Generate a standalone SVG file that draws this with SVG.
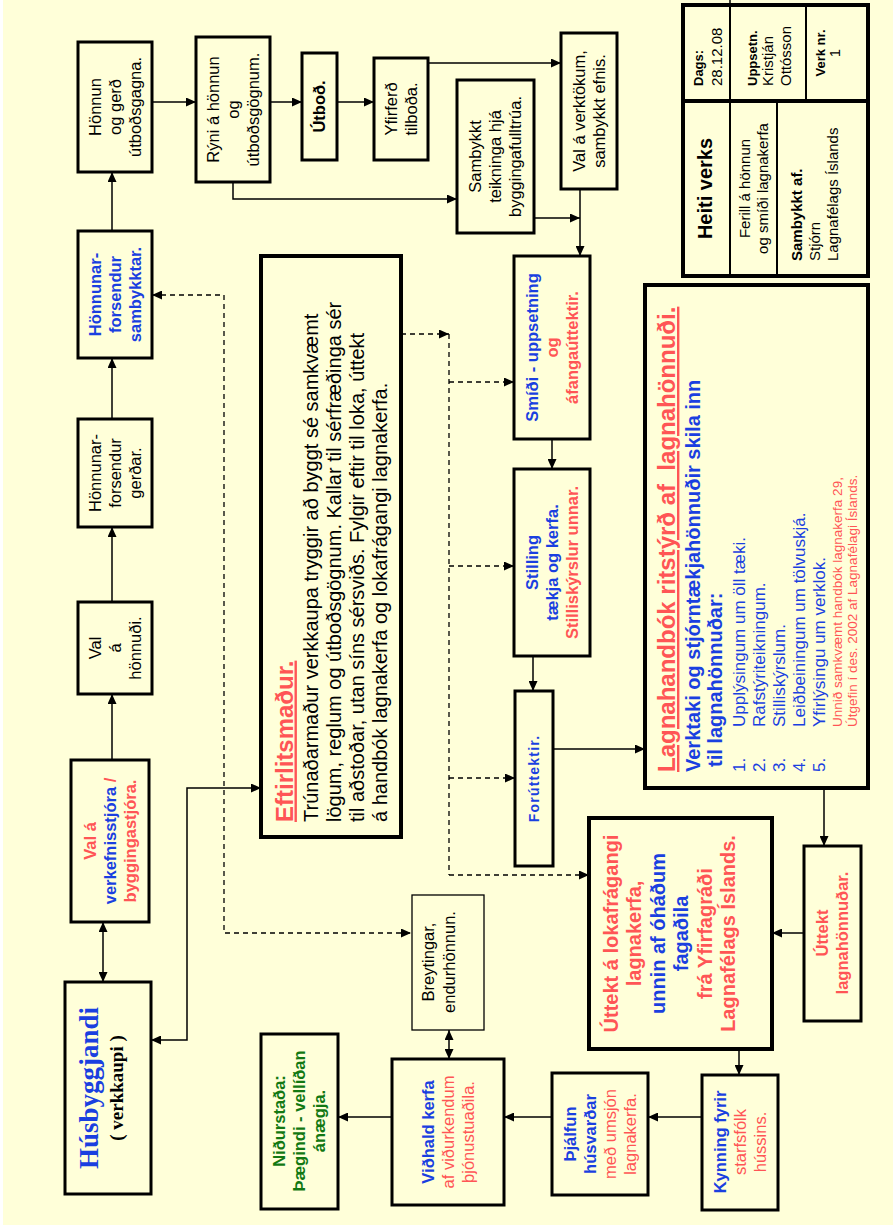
<svg xmlns="http://www.w3.org/2000/svg" width="893" height="1227" viewBox="0 0 893 1227">
<style>
.t{font-family:"Liberation Sans",Arial,sans-serif;font-size:16.5px;fill:#000}
.b{font-weight:bold}
.bl{fill:#1a3fe0}
.rd{fill:#ff5555}
.gr{fill:#127812}
.box{fill:none;stroke:#000;stroke-width:3}
.bx4{fill:none;stroke:#000;stroke-width:4}
.thin{fill:none;stroke:#000;stroke-width:1.3}
.c{fill:none;stroke:#000;stroke-width:1.5}
.d{fill:none;stroke:#000;stroke-width:1.3;stroke-dasharray:5,4}
.u{text-decoration:underline}
</style>
<defs>
<marker id="ah" markerWidth="10" markerHeight="9" refX="10" refY="4.5" orient="auto-start-reverse" markerUnits="userSpaceOnUse">
<path d="M0,0 L10,4.5 L0,9 z" fill="#000"/>
</marker>
</defs>
<rect width="893" height="1227" fill="#ffffff"/>
<rect x="3" y="0" width="890" height="1225" fill="#ffffd9"/>

<g id="connectors">
<line class="c" x1="152" y1="102" x2="196" y2="102" marker-end="url(#ah)"/>
<line class="c" x1="270" y1="102" x2="302" y2="102" marker-end="url(#ah)"/>
<line class="c" x1="337" y1="102" x2="374" y2="102" marker-end="url(#ah)"/>
<line class="c" x1="428" y1="63" x2="561" y2="63" marker-end="url(#ah)"/>
<polyline class="c" points="233,182 233,199 457,199" marker-end="url(#ah)"/>
<line class="c" x1="534" y1="218" x2="580" y2="218" marker-end="url(#ah)"/>
<line class="c" x1="580" y1="189" x2="580" y2="256" marker-end="url(#ah)"/>
<line class="c" x1="112" y1="231" x2="112" y2="172" marker-end="url(#ah)"/>
<line class="c" x1="112" y1="419" x2="112" y2="358" marker-end="url(#ah)"/>
<line class="c" x1="112" y1="602" x2="112" y2="527" marker-end="url(#ah)"/>
<line class="c" x1="112" y1="760" x2="112" y2="694" marker-end="url(#ah)"/>
<line class="c" x1="103" y1="922" x2="103" y2="982" marker-start="url(#ah)" marker-end="url(#ah)"/>
<polyline class="c" points="261,788 187,788 187,1040 151,1040" marker-start="url(#ah)" marker-end="url(#ah)"/>
<polyline class="d" points="152,295 224,295 224,933 411,933" marker-start="url(#ah)" marker-end="url(#ah)"/>
<line class="d" x1="401" y1="334" x2="449" y2="334" marker-end="url(#ah)"/>
<line class="d" x1="449" y1="334" x2="449" y2="875"/>
<line class="d" x1="449" y1="382" x2="514" y2="382" marker-end="url(#ah)"/>
<line class="d" x1="449" y1="566" x2="514" y2="566" marker-end="url(#ah)"/>
<line class="d" x1="449" y1="778" x2="515" y2="778" marker-end="url(#ah)"/>
<line class="d" x1="449" y1="875" x2="589" y2="875" marker-end="url(#ah)"/>
<line class="c" x1="552" y1="439" x2="552" y2="469" marker-end="url(#ah)"/>
<line class="c" x1="533" y1="656" x2="533" y2="691" marker-end="url(#ah)"/>
<line class="c" x1="553" y1="749" x2="645" y2="749" marker-end="url(#ah)"/>
<line class="c" x1="824" y1="788" x2="824" y2="846" marker-end="url(#ah)"/>
<line class="c" x1="804" y1="933" x2="772" y2="933" marker-end="url(#ah)"/>
<line class="c" x1="739" y1="1049" x2="739" y2="1075" marker-end="url(#ah)"/>
<line class="c" x1="702" y1="1117" x2="648" y2="1117" marker-end="url(#ah)"/>
<line class="c" x1="552" y1="1117" x2="504" y2="1117" marker-end="url(#ah)"/>
<line class="c" x1="449" y1="1030" x2="449" y2="1059" marker-start="url(#ah)" marker-end="url(#ah)"/>
<line class="c" x1="392" y1="1117" x2="338" y2="1117" marker-end="url(#ah)"/>
</g>

<g id="honnun-gerd">
<rect class="box" x="78" y="42" width="74" height="130"/>
<text class="t" text-anchor="middle" transform="translate(0,107) rotate(-90)"><tspan x="0" y="100.9">Hönnun</tspan><tspan x="0" y="120.9">og gerð</tspan><tspan x="0" y="140.9">útboðsgagna.</tspan></text>
</g>
<g id="ryni">
<rect class="box" x="196" y="37" width="74" height="145"/>
<text class="t" text-anchor="middle" transform="translate(0,109.5) rotate(-90)"><tspan x="0" y="218.9">Rýni á hönnun</tspan><tspan x="0" y="238.9">og</tspan><tspan x="0" y="258.9">útboðsgögnum.</tspan></text>
</g>
<g id="utbod">
<rect class="box" x="302" y="53" width="35" height="107"/>
<text class="t b" text-anchor="middle" transform="translate(0,106.5) rotate(-90)"><tspan x="0" y="325.4">Útboð.</tspan></text>
</g>
<g id="yfirferd">
<rect class="box" x="374" y="58" width="54" height="102"/>
<text class="t" text-anchor="middle" transform="translate(0,109) rotate(-90)"><tspan x="0" y="396.9">Yfirferð</tspan><tspan x="0" y="416.9">tilboða.</tspan></text>
</g>
<g id="sambykkt-teikninga">
<rect class="box" x="457" y="80" width="77" height="153"/>
<text class="t" text-anchor="middle" transform="translate(0,156.5) rotate(-90)"><tspan x="0" y="481.4">Sambykkt</tspan><tspan x="0" y="501.4">teikninga hjá</tspan><tspan x="0" y="521.4">byggingafulltrúa.</tspan></text>
</g>
<g id="val-verktokum">
<rect class="box" x="561" y="33" width="56" height="156"/>
<text class="t" text-anchor="middle" transform="translate(0,111) rotate(-90)"><tspan x="0" y="584.9">Val á verktökum,</tspan><tspan x="0" y="604.9">sambykkt efnis.</tspan></text>
</g>
<g id="honnunarforsendur-sambykktar">
<rect class="box" x="78" y="231" width="74" height="127"/>
<text class="t b bl" text-anchor="middle" transform="translate(0,294.5) rotate(-90)"><tspan x="0" y="100.9">Hönnunar-</tspan><tspan x="0" y="120.9">forsendur</tspan><tspan x="0" y="140.9">sambykktar.</tspan></text>
</g>
<g id="honnunarforsendur-gerdar">
<rect class="box" x="78" y="419" width="74" height="108"/>
<text class="t" text-anchor="middle" transform="translate(0,473) rotate(-90)"><tspan x="0" y="100.9">Hönnunar-</tspan><tspan x="0" y="120.9">forsendur</tspan><tspan x="0" y="140.9">gerðar.</tspan></text>
</g>
<g id="val-honnudi">
<rect class="box" x="78" y="602" width="74" height="92"/>
<text class="t" text-anchor="middle" transform="translate(0,648) rotate(-90)"><tspan x="0" y="100.9">Val</tspan><tspan x="0" y="120.9">á</tspan><tspan x="0" y="140.9">hönnuði.</tspan></text>
</g>
<g id="val-verkefnisstjora">
<rect class="box" x="71" y="760" width="78" height="162"/>
<text class="t b" text-anchor="middle" transform="translate(0,841) rotate(-90)"><tspan x="0" y="95.9" class="rd">Val á</tspan><tspan x="0" y="115.9" class="bl">verkefnisstjóra<tspan class="rd"> /</tspan></tspan><tspan x="0" y="135.9" class="rd">byggingastjóra.</tspan></text>
</g>
<g id="husbyggjandi">
<rect class="box" x="65" y="982" width="86" height="212"/>
<text text-anchor="middle" style="font-family:'Liberation Serif','Times New Roman',serif;font-weight:bold" transform="translate(0,1088) rotate(-90)"><tspan x="0" y="98" style="font-size:27px;fill:#1a3fe0">Húsbyggjandi</tspan><tspan x="0" y="123" style="font-size:19px;fill:#000">( verkkaupi )</tspan></text>
</g>
<g id="eftirlitsmadur">
<rect class="bx4" x="261" y="256" width="140" height="581"/>
<text class="t" style="font-size:20px" transform="translate(0,822) rotate(-90)"><tspan x="0" y="292.5" class="b rd u" style="font-size:24px">Eftirlitsmaður.</tspan><tspan x="0" y="318">Trúnaðarmaður verkkaupa tryggir að byggt sé samkvæmt</tspan><tspan x="0" y="341">lögum, reglum og útboðsgögnum. Kallar til sérfræðinga sér</tspan><tspan x="0" y="364">til aðstoðar, utan síns sérsviðs. Fylgir eftir til loka, úttekt</tspan><tspan x="0" y="387">á handbók lagnakerfa og lokafrágangi lagnakerfa.</tspan></text>
</g>
<g id="smidi">
<rect class="box" x="514" y="256" width="76" height="183"/>
<text class="t b" text-anchor="middle" transform="translate(0,347.5) rotate(-90)"><tspan x="0" y="537.9" class="bl">Smíði - uppsetning</tspan><tspan x="0" y="557.9" class="rd">og</tspan><tspan x="0" y="577.9" class="rd">áfangaúttektir.</tspan></text>
</g>
<g id="stilling">
<rect class="box" x="514" y="469" width="76" height="187"/>
<text class="t b" text-anchor="middle" transform="translate(0,562.5) rotate(-90)"><tspan x="0" y="537.9" class="bl">Stilling</tspan><tspan x="0" y="557.9" class="bl">tækja og kerfa.</tspan><tspan x="0" y="577.9" class="rd">Stilliskýrslur unnar.</tspan></text>
</g>
<g id="foruttektir">
<rect class="box" x="515" y="691" width="38" height="175"/>
<text class="t b bl" style="font-size:14px;letter-spacing:1.2px" text-anchor="middle" transform="translate(0,778.5) rotate(-90)"><tspan x="0" y="539">Forúttektir.</tspan></text>
</g>
<g id="lagnahandbok">
<rect class="bx4" x="645" y="285" width="223" height="503"/>
<text class="t" transform="translate(0,772) rotate(-90)"><tspan x="0" y="675" class="b rd u" style="font-size:24px">Lagnahandbók ritstýrð af&#160; lagnahönnuði.</tspan><tspan x="0" y="700" class="b bl" style="font-size:20px">Verktaki og stjórntækjahönnuðir skila inn</tspan><tspan x="5" y="722" class="b bl" style="font-size:20px">til lagnahönnuðar:</tspan></text>
<text class="t bl" style="font-size:17px" transform="translate(0,772) rotate(-90)"><tspan x="0" y="745">1.</tspan><tspan x="0" y="765">2.</tspan><tspan x="0" y="785">3.</tspan><tspan x="0" y="805">4.</tspan><tspan x="0" y="825">5.</tspan></text>
<text class="t bl" style="font-size:17px" transform="translate(0,727) rotate(-90)"><tspan x="0" y="745">Upplýsingum um öll tæki.</tspan><tspan x="0" y="765">Rafstýriteikningum.</tspan><tspan x="0" y="785">Stilliskýrslum.</tspan><tspan x="0" y="805">Leiðbeiningum um tölvuskjá.</tspan><tspan x="0" y="825">Yfirlýsingu um verklok.</tspan></text>
<text class="t rd" style="font-size:13.5px" transform="translate(0,727) rotate(-90)"><tspan x="0" y="842">Unnið samkvæmt handbók lagnakerfa 29,</tspan><tspan x="0" y="857">Útgefin í des. 2002 af Lagnafélagi Íslands.</tspan></text>
</g>
<g id="uttekt-lagnahonnudar">
<rect class="box" x="804" y="846" width="57" height="175"/>
<text class="t b rd" text-anchor="middle" transform="translate(0,933) rotate(-90)"><tspan x="0" y="828.4">Úttekt</tspan><tspan x="0" y="848.4">lagnahönnuðar.</tspan></text>
</g>
<g id="uttekt-lokafragangi">
<rect class="bx4" x="589" y="818" width="183" height="231"/>
<text class="t b" style="font-size:20px" text-anchor="middle" transform="translate(0,933.5) rotate(-90)"><tspan x="0" y="618" class="rd">Úttekt á lokafrágangi</tspan><tspan x="0" y="641.4" class="rd">lagnakerfa,</tspan><tspan x="0" y="664.8" class="bl">unnin af óháðum</tspan><tspan x="0" y="688.2" class="bl">fagaðila</tspan><tspan x="0" y="711.6" class="rd">frá Yfirfagráði</tspan><tspan x="0" y="735" class="rd">Lagnafélags Íslands.</tspan></text>
</g>
<g id="kynning">
<rect class="box" x="702" y="1075" width="76" height="135"/>
<text class="t" text-anchor="middle" transform="translate(0,1142) rotate(-90)"><tspan x="0" y="725.9" class="b bl">Kynning fyrir</tspan><tspan x="0" y="745.9" class="rd">starfsfólk</tspan><tspan x="0" y="765.9" class="rd">hússins.</tspan></text>
</g>
<g id="thjalfun">
<rect class="box" x="552" y="1073" width="96" height="122"/>
<text class="t" text-anchor="middle" transform="translate(0,1134) rotate(-90)"><tspan x="0" y="575.9" class="b bl">Þjálfun</tspan><tspan x="0" y="595.9" class="b bl">húsvarðar</tspan><tspan x="0" y="615.9" class="rd">með umsjón</tspan><tspan x="0" y="635.9" class="rd">lagnakerfa.</tspan></text>
</g>
<g id="vidhald">
<rect class="box" x="392" y="1059" width="112" height="146"/>
<text class="t" text-anchor="middle" transform="translate(0,1132) rotate(-90)"><tspan x="0" y="433.9" class="b bl">Viðhald kerfa</tspan><tspan x="0" y="453.9" class="rd">af viðurkendum</tspan><tspan x="0" y="473.9" class="rd">þjónustuaðila.</tspan></text>
</g>
<g id="breytingar">
<rect class="thin" x="412" y="895" width="72" height="135"/>
<text class="t" text-anchor="middle" transform="translate(0,962) rotate(-90)"><tspan x="0" y="434">Breytingar,</tspan><tspan x="0" y="455">endurhönnun.</tspan></text>
</g>
<g id="nidurstada">
<rect class="box" x="261" y="1034" width="77" height="175"/>
<text class="t b gr" text-anchor="middle" transform="translate(0,1121) rotate(-90)"><tspan x="0" y="285.4">Niðurstaða:</tspan><tspan x="0" y="305.4">Þægindi - vellíðan</tspan><tspan x="0" y="325.4">ánægja.</tspan></text>
</g>

<g id="title-block">
<line x1="730" y1="0" x2="730" y2="5" stroke="#000" stroke-width="1.5"/>
<rect class="bx4" x="683" y="5" width="185" height="271"/>
<line x1="683" y1="101" x2="868" y2="101" stroke="#000" stroke-width="4"/>
<line x1="730" y1="5" x2="730" y2="276" stroke="#000" stroke-width="2"/>
<line x1="806" y1="5" x2="806" y2="101" stroke="#000" stroke-width="2"/>
<line x1="777" y1="101" x2="777" y2="276" stroke="#000" stroke-width="2"/>
<text class="t" style="font-size:15px" transform="translate(0,86) rotate(-90)"><tspan x="0" y="703" class="b" style="font-size:13px">Dags:</tspan><tspan x="0" y="722">28.12.08</tspan><tspan x="0" y="757" class="b" style="font-size:13px">Uppsetn.</tspan><tspan x="0" y="773">Kristján</tspan><tspan x="0" y="791">Ottósson</tspan></text>
<text class="t" text-anchor="middle" transform="translate(0,53) rotate(-90)"><tspan x="0" y="825" class="b" style="font-size:13px">Verk nr.</tspan><tspan x="0" y="840" style="font-size:15px">1</tspan></text>
<text class="t" text-anchor="middle" transform="translate(0,188.5) rotate(-90)"><tspan x="0" y="712" class="b" style="font-size:20px">Heiti verks</tspan><tspan x="0" y="750" style="font-size:15px">Ferill á hönnun</tspan><tspan x="0" y="768" style="font-size:15px">og smíði lagnakerfa</tspan></text>
<text class="t" style="font-size:15px" transform="translate(0,261) rotate(-90)"><tspan x="0" y="802" class="b">Sambykkt af.</tspan><tspan x="0" y="820">Stjórn</tspan><tspan x="0" y="838">Lagnafélags Íslands</tspan></text>
</g>
</svg>
